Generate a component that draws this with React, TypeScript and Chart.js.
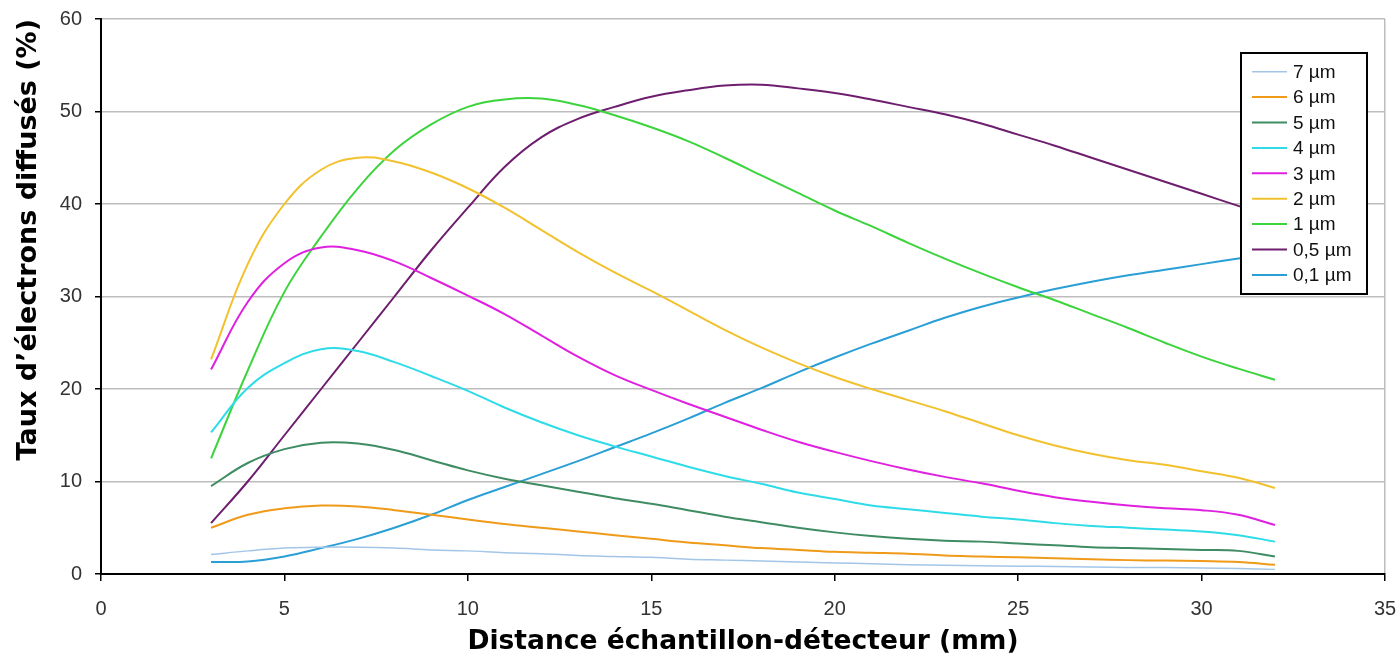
import React, { useEffect, useRef } from "react";
import { Chart, registerables } from "chart.js";

Chart.register(...registerables);

// Distance échantillon-détecteur (mm)
const distances = [3, 4, 5, 6, 7, 8, 9, 10, 11, 12, 13, 14, 15, 16, 17, 18, 19, 20, 21, 22, 23, 24, 25, 26, 27, 28, 29, 30, 31, 32];

// Taux d'électrons diffusés (%) per thickness
const s7um = [2.1, 2.5, 2.8, 2.9, 2.9, 2.8, 2.6, 2.5, 2.3, 2.2, 2.0, 1.9, 1.8, 1.6, 1.5, 1.4, 1.3, 1.2, 1.1, 1.0, 0.95, 0.9, 0.85, 0.8, 0.75, 0.7, 0.7, 0.65, 0.6, 0.5];
const s6um = [5.0, 6.4, 7.1, 7.4, 7.3, 6.9, 6.4, 5.9, 5.4, 5.0, 4.6, 4.2, 3.8, 3.4, 3.1, 2.8, 2.6, 2.4, 2.3, 2.2, 2.0, 1.9, 1.8, 1.7, 1.6, 1.5, 1.45, 1.4, 1.3, 1.0];
const s5um = [9.5, 12.0, 13.5, 14.2, 14.1, 13.4, 12.3, 11.2, 10.3, 9.6, 8.9, 8.2, 7.6, 6.9, 6.2, 5.6, 5.0, 4.5, 4.1, 3.8, 3.6, 3.5, 3.3, 3.1, 2.9, 2.8, 2.7, 2.6, 2.5, 1.9];
const s4um = [15.3, 20.1, 22.8, 24.3, 24.1, 22.9, 21.4, 19.8, 18.0, 16.4, 15.0, 13.8, 12.7, 11.6, 10.6, 9.75, 8.8, 8.1, 7.4, 7.0, 6.6, 6.2, 5.9, 5.5, 5.2, 5.0, 4.8, 4.6, 4.2, 3.5];
const s3um = [22.1, 29.4, 33.6, 35.3, 35.0, 33.8, 32.0, 30.1, 28.1, 25.8, 23.5, 21.5, 19.9, 18.4, 17.0, 15.6, 14.3, 13.2, 12.2, 11.3, 10.5, 9.8, 9.0, 8.3, 7.8, 7.4, 7.1, 6.9, 6.4, 5.3];
const s2um = [23.2, 33.5, 40.0, 43.7, 45.0, 44.6, 43.4, 41.7, 39.6, 37.2, 34.8, 32.6, 30.6, 28.5, 26.4, 24.5, 22.8, 21.3, 20.0, 18.8, 17.6, 16.3, 15.0, 13.9, 13.0, 12.3, 11.8, 11.1, 10.4, 9.3];
const s1um = [12.5, 22.0, 30.5, 36.5, 41.7, 45.8, 48.6, 50.5, 51.3, 51.4, 50.7, 49.6, 48.3, 46.8, 45.0, 43.1, 41.2, 39.3, 37.6, 35.8, 34.1, 32.5, 31.0, 29.6, 28.1, 26.6, 25.0, 23.5, 22.2, 21.0];
const s05um = [5.5, 10.0, 15.0, 20.0, 25.0, 30.0, 35.0, 39.6, 44.0, 47.2, 49.2, 50.5, 51.6, 52.3, 52.8, 52.9, 52.5, 52.0, 51.3, 50.5, 49.7, 48.7, 47.5, 46.3, 45.0, 43.7, 42.4, 41.1, 39.8, 38.5];
const s01um = [1.3, 1.35, 1.9, 2.8, 3.8, 5.0, 6.4, 8.0, 9.4, 10.8, 12.2, 13.7, 15.2, 16.8, 18.5, 20.1, 21.8, 23.4, 24.9, 26.3, 27.7, 28.9, 29.9, 30.8, 31.6, 32.3, 32.9, 33.5, 34.1, 34.7];

const seriesLabels = ["7 µm", "6 µm", "5 µm", "4 µm", "3 µm", "2 µm", "1 µm", "0,5 µm", "0,1 µm"];
const seriesValues = [s7um, s6um, s5um, s4um, s3um, s2um, s1um, s05um, s01um];
const seriesColors = ["#a3c6e8", "#f09a1a", "#3f8c62", "#2edce8", "#e020e0", "#f2c12e", "#3cd43c", "#6e1e6e", "#2a9fd6"];
const seriesWidths = [1.5, 2, 2, 2, 2, 2, 2, 2, 2];

const xTitle = "Distance échantillon-détecteur (mm)";
const yTitle = "Taux d’électrons diffusés (%)";

const boxLegend = {
  id: "boxLegend",
  afterDraw(chart: any) {
    const ctx = chart.ctx;
    const x = 1241, y = 53, w = 126, h = 241;
    ctx.save();
    ctx.fillStyle = "#ffffff";
    ctx.fillRect(x, y, w, h);
    ctx.strokeStyle = "#000000";
    ctx.lineWidth = 2;
    ctx.strokeRect(x, y, w, h);
    ctx.font = '19px "Liberation Sans", Arial, sans-serif';
    ctx.textBaseline = "middle";
    ctx.textAlign = "left";
    chart.data.datasets.forEach((ds: any, i: number) => {
      const cy = y + 18.7 + i * 25.4;
      ctx.strokeStyle = ds.borderColor;
      ctx.lineWidth = ds.borderWidth;
      ctx.beginPath();
      ctx.moveTo(x + 11, cy);
      ctx.lineTo(x + 46, cy);
      ctx.stroke();
      ctx.fillStyle = "#111111";
      ctx.fillText(ds.label, x + 52, cy + 1);
    });
    ctx.restore();
  },
};

export default function App() {
  const canvasRef = useRef<HTMLCanvasElement | null>(null);

  useEffect(() => {
    const canvas = canvasRef.current;
    if (!canvas) return;
    const datasets = seriesLabels.map((label, i) => ({
      label,
      data: distances.map((d, j) => ({ x: d, y: seriesValues[i][j] })),
      borderColor: seriesColors[i],
      backgroundColor: seriesColors[i],
      borderWidth: seriesWidths[i],
      pointRadius: 0,
      fill: false,
      tension: 0.4,
    }));

    const chart = new Chart(canvas, {
      type: "line",
      data: { datasets },
      plugins: [boxLegend],
      options: {
        responsive: false,
        animation: false,
        events: [],
        layout: { padding: { top: 19, right: 14, left: 0, bottom: 0 } },
        plugins: { legend: { display: false }, tooltip: { enabled: false } },
        scales: {
          x: {
            type: "linear",
            min: 0,
            max: 35,
            afterFit: (scale: any) => {
              scale.height = 86;
              scale.paddingLeft = 0;
              scale.paddingRight = 0;
            },
            ticks: {
              stepSize: 5,
              padding: 16,
              color: "#333333",
              font: { family: '"Liberation Sans", Arial, sans-serif', size: 20 },
            },
            grid: {
              color: (c: any) => (c.tick && c.tick.value === 35 ? "#bdbdbd" : "rgba(0,0,0,0)"),
              lineWidth: 1.5,
              tickColor: "#000000",
              tickLength: 7,
              tickWidth: 1.5,
            },
            border: { color: "#000000", width: 2 },
            title: {
              display: true,
              text: xTitle,
              color: "#000000",
              font: { family: '"DejaVu Sans", Verdana, sans-serif', size: 26.5, weight: "bold" },
              padding: { top: 0, bottom: 2 },
            },
          },
          y: {
            type: "linear",
            min: 0,
            max: 60,
            afterFit: (scale: any) => {
              scale.width = 101;
              scale.paddingTop = 0;
              scale.paddingBottom = 0;
            },
            ticks: {
              stepSize: 10,
              padding: 13,
              color: "#333333",
              font: { family: '"Liberation Sans", Arial, sans-serif', size: 20 },
            },
            grid: {
              color: (c: any) => (c.tick && c.tick.value === 0 ? "rgba(0,0,0,0)" : "#bdbdbd"),
              lineWidth: 1.5,
              tickColor: "#000000",
              tickLength: 6,
              tickWidth: 1.5,
            },
            border: { color: "#000000", width: 2 },
            title: {
              display: true,
              text: yTitle,
              align: "end",
              color: "#000000",
              font: { family: '"DejaVu Sans", Verdana, sans-serif', size: 27, weight: "bold" },
              padding: { top: 13, bottom: 0 },
            },
          },
        },
      },
    });
    return () => chart.destroy();
  }, []);

  return (
    <div style={{ position: "absolute", left: 0, top: 0, width: 1399, height: 660, background: "#fff" }}>
      <canvas ref={canvasRef} width={1399} height={660} />
    </div>
  );
}
